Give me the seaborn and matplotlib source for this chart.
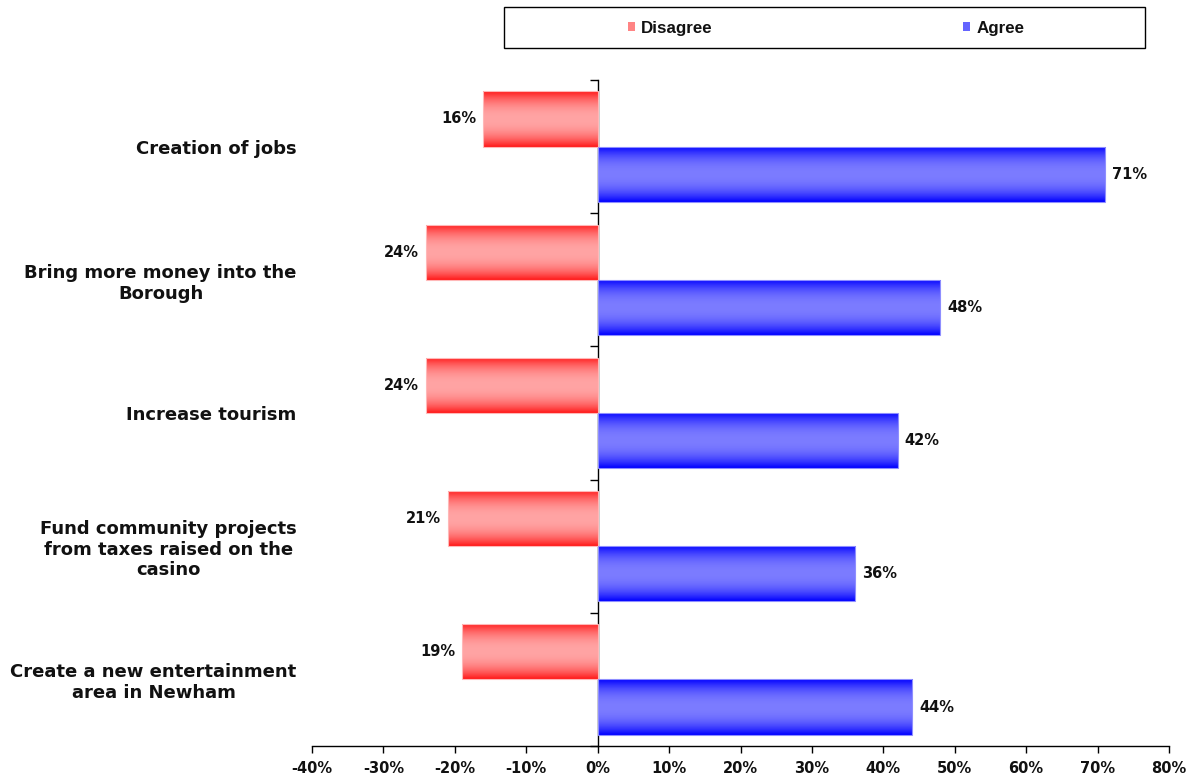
import numpy as np
import pandas as pd
import matplotlib
matplotlib.use("Agg")
import matplotlib.pyplot as plt
import seaborn as sns
from matplotlib.patches import Rectangle
from matplotlib.colors import to_rgb

# Survey statements and share of respondents (%)
categories = [
    "Creation of jobs",
    "Bring more money into the\nBorough",
    "Increase tourism",
    "Fund community projects\nfrom taxes raised on the\ncasino",
    "Create a new entertainment\narea in Newham",
]
disagree = [16, 24, 24, 21, 19]
agree = [71, 48, 42, 36, 44]
series = ["Disagree", "Agree"]
x_ticks = [-40, -30, -20, -10, 0, 10, 20, 30, 40, 50, 60, 70, 80]
x_tick_labels = [f"{t}%" for t in x_ticks]

df = pd.DataFrame({
    "statement": categories * 2,
    "response": ["Disagree"] * len(disagree) + ["Agree"] * len(agree),
    "value": [-v for v in disagree] + agree,
})

# edge / centre colours of the shaded bars, plus a pale outline
shades = {
    "Disagree": ("#FF1A1A", "#FFA4A4"),
    "Agree": ("#0000FF", "#7C7CFF"),
}
outlines = {"Disagree": "#FFB8B8", "Agree": "#8E8EFF"}
legend_colors = {"Disagree": "#FF8484", "Agree": "#6464FF"}
TEXT = "#111111"

sns.set_style("white")
plt.rcParams["font.family"] = ["DejaVu Sans"]
plt.rcParams["font.weight"] = "bold"

fig = plt.figure(figsize=(12.02, 7.82), dpi=100)
ax = fig.add_axes([312 / 1202, 1 - 746 / 782, 857 / 1202, 666 / 782])

sns.barplot(
    data=df, y="statement", x="value", hue="response",
    order=categories, hue_order=series, orient="h",
    palette=legend_colors, saturation=1, width=0.83,
    edgecolor="none", legend=False, ax=ax,
)


def shade(edge, mid, n=96):
    t = np.abs(np.linspace(-1, 1, n)) ** 2.2
    e, m = np.array(to_rgb(edge)), np.array(to_rgb(mid))
    return (m[None, :] + (e - m)[None, :] * t[:, None])[:, None, :]


values = {"Disagree": disagree, "Agree": agree}
for name, container in zip(series, ax.containers):
    img = shade(*shades[name])
    sign = -1 if name == "Disagree" else 1
    for patch, v in zip(container, values[name]):
        x0, y0 = patch.get_x(), patch.get_y()
        w, h = patch.get_width(), patch.get_height()
        z = patch.get_zorder()
        im = ax.imshow(img, extent=(x0, x0 + w, y0 + h, y0), aspect="auto",
                       zorder=z + 0.1, interpolation="bilinear")
        im.set_clip_path(patch)
        patch.set_facecolor("none")
        patch.set_edgecolor(outlines[name])
        patch.set_linewidth(0.8)
        patch.set_zorder(z + 0.2)
        ax.annotate(
            f"{v}%", xy=(sign * v, y0 + h / 2), xytext=(sign * 7, 0),
            textcoords="offset pixels", ha="left" if sign > 0 else "right",
            va="center", fontsize=10.5, fontweight="bold", color=TEXT,
        )

ax.set_xlim(-40, 80)
ax.set_ylim(len(categories) - 0.5, -0.5)
ax.set_xticks(x_ticks, x_tick_labels)
ax.set_xlabel("")
ax.set_ylabel("")
ax.grid(False)

for s in ["top", "right", "left"]:
    ax.spines[s].set_visible(False)
ax.spines["bottom"].set_color("black")
ax.spines["bottom"].set_linewidth(1)
ax.tick_params(axis="x", bottom=True, length=5, width=1, color="black",
               labelsize=10.5, pad=6, labelcolor=TEXT)
ax.tick_params(axis="y", left=False, length=0, pad=11, labelsize=13, labelcolor=TEXT)
for lbl in ax.get_yticklabels():
    lbl.set_multialignment("center")
    lbl.set_fontweight("bold")
for lbl in ax.get_xticklabels():
    lbl.set_fontweight("bold")

# zero line with category-boundary ticks
zero_axis = ax.secondary_yaxis(0, transform=ax.transData)
zero_axis.set_yticks(np.arange(-0.5, len(categories), 1.0))
zero_axis.set_yticklabels([])
zero_axis.tick_params(axis="y", length=6, width=1, color="black", direction="out")
zero_axis.spines["left"].set_color("black")
zero_axis.spines["left"].set_linewidth(1)

# legend inside a framed box above the plot
handles = [Rectangle((0, 0), 1, 1, facecolor=legend_colors[s], edgecolor="none") for s in series]
fig.legend(
    handles, series, loc="center", bbox_to_anchor=(826 / 1202, 1 - 28 / 782),
    ncol=2, frameon=False, handlelength=0.42, handleheight=0.5,
    handletextpad=0.35, columnspacing=14.8, labelcolor=TEXT,
    prop={"family": "Liberation Sans", "weight": "bold", "size": 12.2},
)
fig.add_artist(Rectangle((504 / 1202, 1 - 48 / 782), 641 / 1202, 41 / 782,
                         transform=fig.transFigure, fill=False,
                         edgecolor="black", linewidth=1))

fig.savefig("out.png", dpi=100, facecolor="white")
